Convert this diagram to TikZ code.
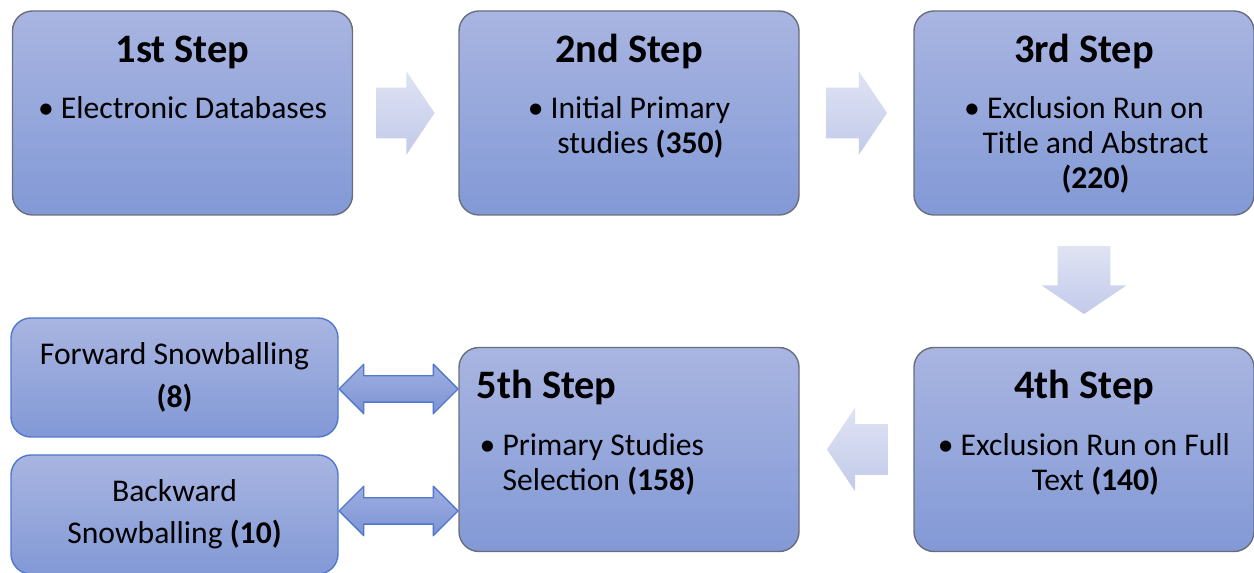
\documentclass[tikz,border=0pt]{standalone}
\usepackage{fontspec}
\setmainfont{Carlito}
\usetikzlibrary{shapes.arrows, calc, positioning}
\definecolor{boxtop}{RGB}{169,181,225}
\definecolor{boxbot}{RGB}{130,153,214}
\definecolor{boxline}{RGB}{105,110,125}
\definecolor{arrtop}{RGB}{223,227,243}
\definecolor{arrbot}{RGB}{194,202,234}
\definecolor{dbltop}{RGB}{158,174,225}
\definecolor{dblbot}{RGB}{125,148,212}
\definecolor{dblline}{RGB}{80,120,205}
\begin{document}
\begin{tikzpicture}[line cap=round, line join=round,
    stepbox/.style={rectangle, rounded corners=0.4cm, draw=boxline, line width=0.8pt, top color=boxtop, bottom color=boxbot, minimum width=6.8cm, minimum height=4.08cm},
    snowbox/.style={rectangle, rounded corners=0.4cm, draw=dblline, line width=0.8pt, top color=boxtop, bottom color=boxbot, minimum width=6.54cm, minimum height=2.38cm, align=center, font=\fontsize{18}{24}\selectfont},
    steptitle/.style={inner sep=0, font=\fontsize{23}{27}\selectfont\bfseries},
    steptext/.style={inner sep=0, font=\fontsize{18}{20}\selectfont},
    flowarrow/.style={single arrow, top color=arrtop, bottom color=arrbot, inner xsep=0, inner ysep=0.5cm, single arrow head extend=0.33cm, single arrow tip angle=112, anchor=tail},
    linkarrow/.style={double arrow, draw=dblline, line width=0.8pt, top color=dbltop, bottom color=dblbot, inner xsep=0, inner ysep=0.25cm, double arrow head extend=0.23cm, minimum height=2.38cm}]
  \useasboundingbox (0, 0) rectangle (25.08, 11.46);
  % Step boxes
  \foreach \cx/\cy [count=\x] in {3.65/9.2, 12.58/9.2, 21.68/9.2, 21.68/2.47, 12.58/2.47}
    \node [stepbox] (step-\x) at (\cx, \cy) {};
  % Snowballing boxes
  \node [snowbox] (snow-1) at (3.49, 3.91) {Forward Snowballing\\\textbf{(8)}};
  \node [snowbox] (snow-2) at (3.49, 1.17) {Backward\\Snowballing \textbf{(10)}};
  % Titles
  \foreach \t [count=\x] in {1st, 2nd, 3rd, 4th}
    \node [steptitle, anchor=base] (title-\x) at ($(step-\x.north) + (0, -1.04)$) {\t\ Step};
  \node [steptitle, anchor=base west] (title-5) at ($(step-5.north west) + (0.36, -1.04)$) {5th Step};
  % Texts
  \node [steptext, anchor=north, align=center] (text-1) at ($(step-1.north) + (0, -1.72)$) {\textbullet\ Electronic Databases};
  \node [steptext, anchor=north, align=center] (text-2) at ($(step-2.north) + (0, -1.72)$) {\textbullet\ Initial Primary\\\phantom{\textbullet\ }studies \textbf{(350)}};
  \node [steptext, anchor=north, align=center] (text-3) at ($(step-3.north) + (0, -1.72)$) {\textbullet\ Exclusion Run on\\\phantom{\textbullet\ }Title and Abstract\\\phantom{\textbullet\ }\textbf{(220)}};
  \node [steptext, anchor=north, align=center] (text-4) at ($(step-4.north) + (0, -1.72)$) {\textbullet\ Exclusion Run on Full\\\phantom{\textbullet\ }Text \textbf{(140)}};
  \node [steptext, anchor=north west, align=left] (text-5) at ($(step-5.north west) + (0.42, -1.72)$) {\textbullet\ Primary Studies\\\phantom{\textbullet\ }Selection \textbf{(158)}};
  % Flow arrows
  \node [flowarrow, minimum height=1.16cm] (flow-1) at ($(step-1.east) + (0.46, 0)$) {};
  \node [flowarrow, minimum height=1.22cm] (flow-2) at ($(step-2.east) + (0.52, 0)$) {};
  \node [flowarrow, shape border rotate=270, inner xsep=0.52cm, inner ysep=0, single arrow head extend=0.32cm, minimum height=1.36cm] (flow-3) at ($(step-3.south) + (0, -0.6)$) {};
  \node [flowarrow, shape border rotate=180, minimum height=1.22cm] (flow-4) at ($(step-4.west) + (-0.5, 0)$) {};
  % Snowballing arrows
  \node [linkarrow] (link-1) at ($(snow-1.east)!0.5!(snow-1.east -| step-5.west) + (0, -0.23)$) {};
  \node [linkarrow] (link-2) at ($(snow-2.east)!0.5!(snow-2.east -| step-5.west) + (0, 0.07)$) {};
\end{tikzpicture}
\end{document}
